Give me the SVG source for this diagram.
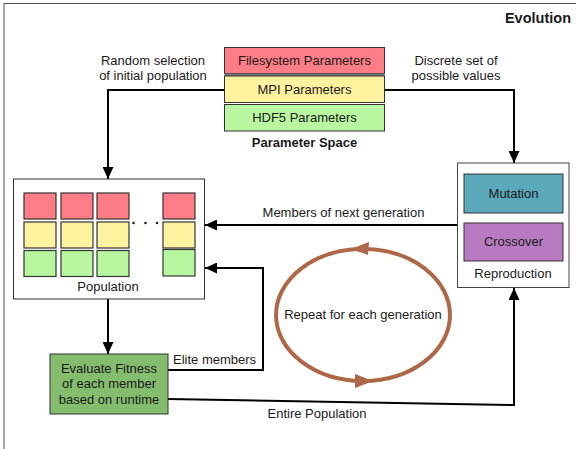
<svg xmlns="http://www.w3.org/2000/svg" width="576" height="449" viewBox="0 0 576 449">
<style>
text{font-family:"Liberation Sans",Arial,Helvetica,sans-serif;font-size:13px;fill:#1a1a1a}
.c{text-anchor:middle}
.b{font-weight:bold}
.box{stroke:#333;stroke-width:1}
.sq{stroke:#333;stroke-width:1.2}
.red{fill:#FF7D86}
.yel{fill:#FFF3A0}
.grn{fill:#B8F7A0}
.conn{fill:none;stroke:#000;stroke-width:2;marker-end:url(#arr)}
</style>
<defs>
<marker id="arr" markerUnits="userSpaceOnUse" markerWidth="12" markerHeight="11" refX="12" refY="5.5" orient="auto">
<path d="M0,0 L12,5.5 L0,11 z" fill="#000"/>
</marker>
</defs>
<rect x="4" y="3.5" width="600" height="500" fill="none" stroke="#555" stroke-width="1"/>
<text x="571" y="23" class="b" style="font-size:14.5px;text-anchor:end">Evolution</text>

<g id="connectors">
<path class="conn" d="M224,90 H108 V179"/>
<path class="conn" d="M385,90 H514 V163"/>
<path class="conn" d="M457,225 H205"/>
<path class="conn" d="M108,299 V354"/>
<path class="conn" d="M168,370 H263 V268 H205"/>
<path class="conn" d="M168,399 L514,405 V288"/>
<text x="153" y="65" class="c">Random selection</text>
<text x="153" y="80" class="c">of initial population</text>
<text x="456" y="65" class="c">Discrete set of</text>
<text x="456" y="80" class="c">possible values</text>
<text x="343.5" y="217" class="c">Members of next generation</text>
<text x="173" y="364">Elite members</text>
<text x="317" y="418" class="c">Entire Population</text>
</g>

<g id="parameter-space">
<rect x="224.5" y="47.5" width="160" height="26" class="box red"/>
<rect x="224.5" y="73.5" width="160" height="2.5" fill="#777"/>
<rect x="224.5" y="76" width="160" height="26.5" class="box yel"/>
<rect x="224.5" y="104.5" width="160" height="26.5" class="box grn"/>
<text x="304.5" y="65" class="c">Filesystem Parameters</text>
<text x="304.5" y="94" class="c">MPI Parameters</text>
<text x="304.5" y="122" class="c">HDF5 Parameters</text>
<text x="304.5" y="147" class="c b">Parameter Space</text>
</g>

<g id="population">
<rect x="13.5" y="179" width="191" height="120" fill="#fff" class="box"/>
<rect x="24" y="193" width="32" height="26" class="sq red"/>
<rect x="61" y="193" width="32" height="26" class="sq red"/>
<rect x="97" y="193" width="32" height="26" class="sq red"/>
<rect x="163" y="193" width="32" height="26" class="sq red"/>
<rect x="24" y="222" width="32" height="26" class="sq yel"/>
<rect x="61" y="222" width="32" height="26" class="sq yel"/>
<rect x="97" y="222" width="32" height="26" class="sq yel"/>
<rect x="163" y="222" width="32" height="26" class="sq yel"/>
<rect x="24" y="250.5" width="32" height="26" class="sq grn"/>
<rect x="61" y="250.5" width="32" height="26" class="sq grn"/>
<rect x="97" y="250.5" width="32" height="26" class="sq grn"/>
<rect x="163" y="249.5" width="32" height="26.5" class="sq grn"/>
<circle cx="133.5" cy="223" r="1.3" fill="#222"/>
<circle cx="145.5" cy="223" r="1.3" fill="#222"/>
<circle cx="157" cy="223" r="1.3" fill="#222"/>
<text x="108" y="291" class="c">Population</text>
</g>

<g id="reproduction">
<rect x="457.5" y="163" width="111.5" height="124.5" fill="#fff" stroke="#444" stroke-width="1"/>
<rect x="464" y="174" width="99" height="39" fill="#5BA8BB" class="box"/>
<rect x="464" y="223" width="99" height="38" fill="#B87AC0" class="box"/>
<text x="513.5" y="198" class="c">Mutation</text>
<text x="513.5" y="246" class="c">Crossover</text>
<text x="513" y="278" class="c">Reproduction</text>
</g>

<g id="evaluate">
<rect x="50" y="354" width="118" height="60" fill="#84BD6E" class="box"/>
<text x="109" y="373" class="c">Evaluate Fitness</text>
<text x="109" y="388" class="c">of each member</text>
<text x="109" y="403.5" class="c">based on runtime</text>
</g>

<g id="cycle">
<ellipse cx="363" cy="315" rx="87" ry="66" fill="none" stroke="#AE6848" stroke-width="4"/>
<polygon points="351,249 369,242 368,255" fill="#AE6848"/>
<polygon points="373,381 355,374 355,388" fill="#AE6848"/>
<text x="363" y="319" class="c">Repeat for each generation</text>
</g>
</svg>
